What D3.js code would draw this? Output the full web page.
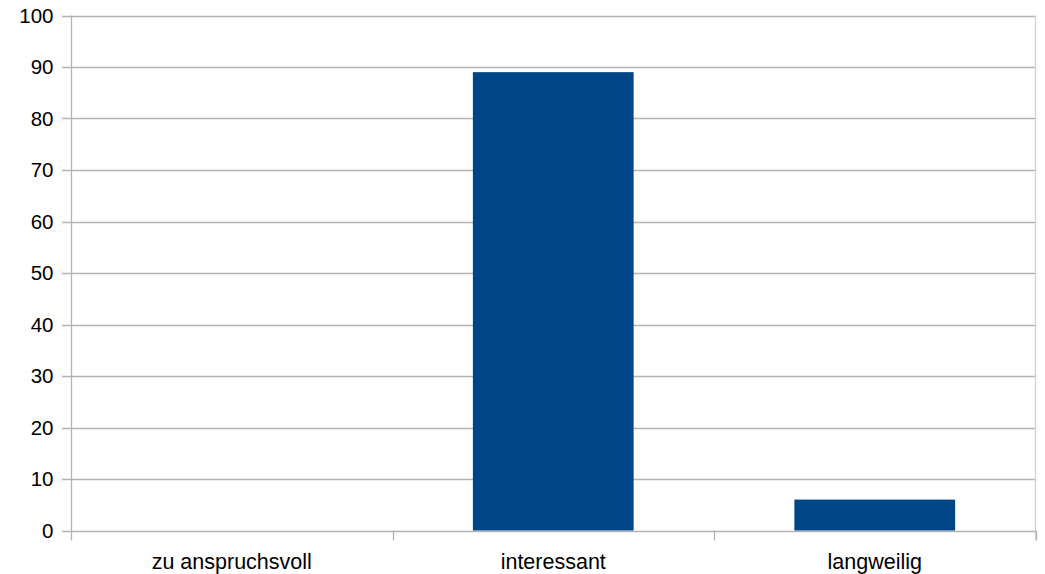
<!DOCTYPE html>
<html>
<head>
<meta charset="utf-8">
<script src="https://cdn.jsdelivr.net/npm/d3@7"></script>
<style>
html,body{margin:0;padding:0;background:#fff;}
svg{display:block;font-family:"Liberation Sans",Arial,sans-serif;}
</style>
</head>
<body>
<svg id="chart" width="1045" height="574"></svg>
<script>
const categories = ["zu anspruchsvoll", "interessant", "langweilig"];
const values = [0, 89, 6];
const yTicks = [0, 10, 20, 30, 40, 50, 60, 70, 80, 90, 100];

const svg = d3.select("#chart");
const mLeft = 71, mRight = 1035.5, mTop = 15.5, mBottom = 530.5;

const x = d3.scaleBand().domain(categories).range([mLeft, mRight]).paddingInner(0.5).paddingOuter(0.25);
const xb = d3.scaleBand().domain(categories).range([mLeft, mRight]);
const y = d3.scaleLinear().domain([0, 100]).range([mBottom, mTop]);

// gridlines
svg.append("g").selectAll("line").data(yTicks).join("line")
  .attr("x1", mLeft - 9).attr("x2", mRight)
  .attr("y1", d => Math.round(y(d)) + 0.5).attr("y2", d => Math.round(y(d)) + 0.5)
  .attr("stroke", "#b3b3b3").attr("stroke-width", 1.3);

// right border
svg.append("line").attr("x1", mRight).attr("x2", mRight).attr("y1", mTop).attr("y2", mBottom + 10)
  .attr("stroke", "#d0d0d0").attr("stroke-width", 1.3);

// bars
svg.append("g").selectAll("rect").data(values).join("rect")
  .attr("x", (d, i) => x(categories[i]))
  .attr("width", x.bandwidth())
  .attr("y", d => y(d))
  .attr("height", d => y(0) - y(d))
  .attr("fill", "#004586");

// y axis line
svg.append("line").attr("x1", mLeft + 0.5).attr("x2", mLeft + 0.5).attr("y1", mTop).attr("y2", mBottom + 10)
  .attr("stroke", "#b3b3b3").attr("stroke-width", 1.3);

// x ticks at band boundaries
const bounds = categories.map(c => xb(c)).concat([mRight]);
svg.append("g").selectAll("line").data(bounds.slice(1)).join("line")
  .attr("x1", d => Math.round(d) + 0.5).attr("x2", d => Math.round(d) + 0.5)
  .attr("y1", mBottom).attr("y2", mBottom + 10)
  .attr("stroke", "#b3b3b3").attr("stroke-width", 1.3);

// y labels
svg.append("g").selectAll("text").data(yTicks).join("text")
  .attr("x", 53.5).attr("y", d => y(d)).attr("dy", "0.36em")
  .attr("text-anchor", "end").attr("font-size", 20.5).attr("fill", "#000")
  .text(d => d);

// x labels
svg.append("g").selectAll("text").data(categories).join("text")
  .attr("x", d => xb(d) + xb.bandwidth() / 2).attr("y", 569)
  .attr("text-anchor", "middle").attr("font-size", 21.5).attr("fill", "#000")
  .text(d => d);
</script>
</body>
</html>
